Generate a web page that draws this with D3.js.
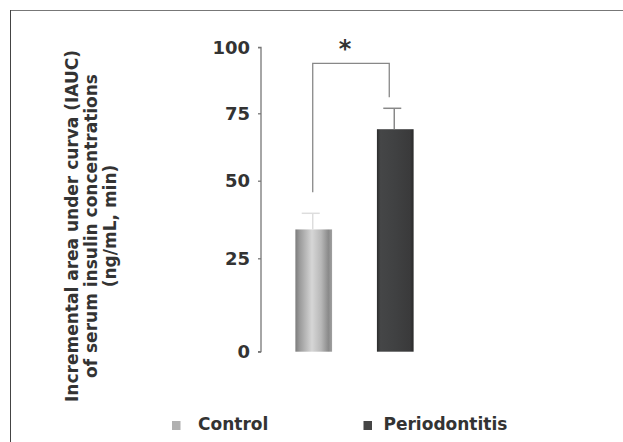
<!DOCTYPE html>
<html><head><meta charset="utf-8">
<script src="https://cdn.jsdelivr.net/npm/d3@7"></script>
<style>body{margin:0;background:#fff}svg{display:block}text{font-family:"DejaVu Sans",sans-serif;font-weight:bold;fill:#333}</style>
</head><body>
<script>
const categories = ["Control", "Periodontitis"];
const means = [34.3, 69.1];
const errors = [5.2, 7.8];
const tickValues = [0, 25, 50, 75, 100];
const tickLabels = ["0", "25", "50", "75", "100"];
const titleLines = ["Incremental area under curva (IAUC)", "of serum insulin concentrations", "(ng/mL, min)"];
const bracketLeftEnd = 46.3, bracketTop = 93.9, bracketRightEnd = 81.1;
const sigLabel = "*";

const W = 623, H = 442;
const svg = d3.select("body").append("svg").attr("width", W).attr("height", H);
const defs = svg.append("defs");
const g1 = defs.append("linearGradient").attr("id","gc").attr("x1","0").attr("x2","1").attr("y1","0").attr("y2","0");
[[0,"#7c7c7c"],[0.12,"#9b9b9b"],[0.45,"#d6d6d6"],[0.7,"#b8b8b8"],[0.9,"#8a8a8a"],[1,"#a0a0a0"]].forEach(s=>g1.append("stop").attr("offset",s[0]).attr("stop-color",s[1]));
const g2 = defs.append("linearGradient").attr("id","gp").attr("x1","0").attr("x2","1").attr("y1","0").attr("y2","0");
[[0,"#2c2c2c"],[0.1,"#454647"],[0.5,"#404142"],[0.9,"#3a3a3b"],[1,"#2a2a2a"]].forEach(s=>g2.append("stop").attr("offset",s[0]).attr("stop-color",s[1]));
const fills = ["url(#gc)", "url(#gp)"];
const legendColors = ["#b0b0b0", "#454545"];

// frame
svg.append("line").attr("x1",10).attr("x2",W).attr("y1",10.5).attr("y2",10.5).attr("stroke","#777");
svg.append("line").attr("x1",10.5).attr("x2",10.5).attr("y1",10).attr("y2",H).attr("stroke","#444");

const y = d3.scaleLinear().domain(tickValues).range([351.7, 258.3, 180.7, 113.3, 47.3]);
const x = d3.scaleBand().domain(categories).range([275, 434]).paddingInner(0.55).paddingOuter(0.25);

const axis = d3.axisLeft(y).tickValues(tickValues).tickFormat((d,i)=>tickLabels[i]).tickSize(3).tickPadding(8);
const ag = svg.append("g").attr("transform","translate(261,0)").call(axis);
ag.select(".domain").attr("stroke","#777").attr("stroke-width",1.3).attr("d",`M-3,${y(100)}H0V${y(0)}H-3`);
ag.selectAll(".tick line").attr("stroke","#777").attr("stroke-width",1.3);
ag.selectAll(".tick text").attr("font-size",18).attr("fill","#333").style("font-family","DejaVu Sans").style("font-weight","bold");

// bars
svg.selectAll(".bar").data(categories).join("rect")
  .attr("x", d=>x(d)).attr("width", x.bandwidth())
  .attr("y", (d,i)=>y(means[i])).attr("height",(d,i)=>y(0)-y(means[i]))
  .attr("fill",(d,i)=>fills[i]);

// error bars
const errColors = ["#ddd", "#888"];
categories.forEach((c,i)=>{
  const cx = x(c) + x.bandwidth()/2 - 1;
  svg.append("line").attr("x1",cx).attr("x2",cx).attr("y1",y(means[i])).attr("y2",y(means[i]+errors[i])).attr("stroke",errColors[i]).attr("stroke-width",1.5);
  svg.append("line").attr("x1",cx-11).attr("x2",cx+7).attr("y1",y(means[i]+errors[i])).attr("y2",y(means[i]+errors[i])).attr("stroke",errColors[i]).attr("stroke-width",1.5);
});

// significance bracket
const lx = x(categories[0]) + x.bandwidth()/2 - 1, rx = x(categories[1]) + x.bandwidth()/2 - 6;
svg.append("path").attr("d",`M${lx},${y(bracketLeftEnd)}V${y(bracketTop)}H${rx}V${y(bracketRightEnd)}`).attr("fill","none").attr("stroke","#888").attr("stroke-width",1.3);
svg.append("text").attr("x",(lx+rx)/2 - 6).attr("y",57).attr("text-anchor","middle").attr("font-size",24).text(sigLabel);

// y title
const t = svg.append("text").attr("transform","translate(78,226) rotate(-90)").attr("text-anchor","middle").attr("font-size",17);
titleLines.forEach((l,i)=>t.append("tspan").attr("x",0).attr("y",i*19).text(l));

// legend
const lx0 = [172, 363.5];
categories.forEach((c,i)=>{
  svg.append("rect").attr("x",lx0[i]).attr("y",421).attr("width",8.5).attr("height",9).attr("fill",legendColors[i]);
  svg.append("text").attr("x",lx0[i]+(i?20:26)).attr("y",429.5).attr("font-size",17).text(c);
});
</script>
</body></html>
